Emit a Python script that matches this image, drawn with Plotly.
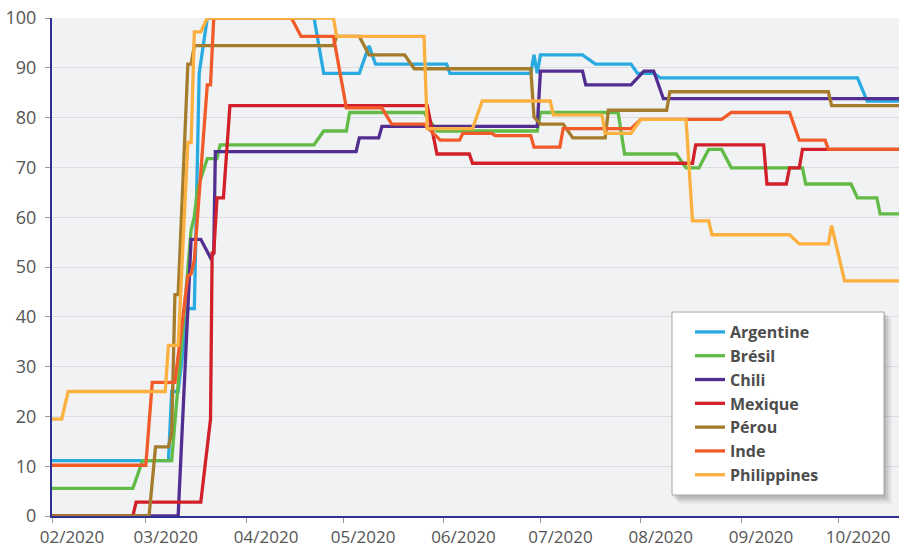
import plotly.graph_objects as go

# Stringency index by country
arg_dates = ["2020-02-01", "2020-03-08", "2020-03-09", "2020-03-11", "2020-03-14", "2020-03-16",
             "2020-03-17 12:00", "2020-03-20", "2020-04-22", "2020-04-25", "2020-05-06", "2020-05-09",
             "2020-05-11", "2020-06-02", "2020-06-03", "2020-06-28", "2020-06-29", "2020-06-30",
             "2020-07-01", "2020-07-14", "2020-07-18", "2020-07-29", "2020-07-31", "2020-08-05",
             "2020-08-07", "2020-10-07", "2020-10-10", "2020-10-20"]
arg_vals = [11.11, 11.11, 25, 25, 41.67, 41.67, 88.89, 100, 100, 88.89, 88.89, 94.44,
            90.74, 90.74, 88.89, 88.89, 92.59, 88.89, 92.59, 92.59, 90.74, 90.74, 88.89, 88.89,
            87.96, 87.96, 83.33, 83.33]

bra_dates = ["2020-02-01", "2020-02-26", "2020-02-29", "2020-03-09", "2020-03-15", "2020-03-16",
             "2020-03-17", "2020-03-20", "2020-03-23", "2020-03-24", "2020-04-22", "2020-04-25",
             "2020-05-02", "2020-05-03", "2020-05-26", "2020-05-30", "2020-06-30", "2020-07-01",
             "2020-07-25", "2020-07-27", "2020-08-12", "2020-08-15", "2020-08-19", "2020-08-22",
             "2020-08-26", "2020-08-29", "2020-09-20", "2020-09-21", "2020-10-05", "2020-10-07",
             "2020-10-13", "2020-10-14", "2020-10-20"]
bra_vals = [5.56, 5.56, 11.11, 11.11, 57.41, 60.19, 65.74, 71.76, 71.76, 74.54, 74.54, 77.31,
            77.31, 81.02, 81.02, 77.31, 77.31, 81.02, 81.02, 72.69, 72.69, 69.91, 69.91, 73.61,
            73.61, 69.91, 69.91, 66.67, 66.67, 63.89, 63.89, 60.65, 60.65]

chl_dates = ["2020-02-01", "2020-03-11", "2020-03-15", "2020-03-18", "2020-03-21", "2020-03-22",
             "2020-03-22 12:00", "2020-05-05", "2020-05-06", "2020-05-12", "2020-05-13", "2020-06-30",
             "2020-07-01", "2020-07-14", "2020-07-15", "2020-07-29", "2020-08-02", "2020-08-05",
             "2020-08-08", "2020-10-20"]
chl_vals = [0, 0, 55.56, 55.56, 51.85, 52.78, 73.15, 73.15, 75.93, 75.93, 78.24, 78.24,
            89.35, 89.35, 86.57, 86.57, 89.35, 89.35, 83.8, 83.8]

mex_dates = ["2020-02-01", "2020-02-26", "2020-02-27", "2020-03-18", "2020-03-21", "2020-03-21 12:00",
             "2020-03-22", "2020-03-23", "2020-03-25", "2020-03-27", "2020-05-27", "2020-05-30",
             "2020-06-09", "2020-06-10", "2020-08-17", "2020-08-18", "2020-09-08", "2020-09-09",
             "2020-09-15", "2020-09-16", "2020-09-19", "2020-09-20", "2020-10-20"]
mex_vals = [0, 0, 2.78, 2.78, 19.44, 52.78, 52.78, 63.89, 63.89, 82.41, 82.41, 72.69,
            72.69, 70.83, 70.83, 74.54, 74.54, 66.67, 66.67, 69.91, 69.91, 73.61, 73.61]

per_dates = ["2020-02-01", "2020-03-02", "2020-03-04", "2020-03-08", "2020-03-09", "2020-03-10",
             "2020-03-11", "2020-03-14", "2020-03-15", "2020-03-16", "2020-04-28", "2020-04-29",
             "2020-05-06", "2020-05-09", "2020-05-20", "2020-05-23", "2020-06-28", "2020-06-29",
             "2020-07-01", "2020-07-08", "2020-07-11", "2020-07-21", "2020-07-22", "2020-08-09",
             "2020-08-10", "2020-09-28", "2020-09-29", "2020-10-20"]
per_vals = [0, 0, 13.89, 13.89, 16.67, 44.44, 44.44, 90.74, 90.74, 94.44, 94.44, 96.3,
            96.3, 92.59, 92.59, 89.81, 89.81, 80.09, 78.7, 78.7, 75.93, 75.93, 81.48, 81.48,
            85.19, 85.19, 82.41, 82.41]

ind_dates = ["2020-02-01", "2020-03-01", "2020-03-03", "2020-03-10", "2020-03-14", "2020-03-15",
             "2020-03-16", "2020-03-20", "2020-03-21", "2020-03-22", "2020-04-15", "2020-04-18",
             "2020-04-28", "2020-05-02", "2020-05-13", "2020-05-16", "2020-05-26", "2020-05-31",
             "2020-06-06", "2020-06-07", "2020-06-16", "2020-06-17", "2020-06-28", "2020-06-29",
             "2020-07-07", "2020-07-08", "2020-07-29", "2020-08-01", "2020-08-26", "2020-08-29",
             "2020-09-16", "2020-09-19", "2020-09-27", "2020-09-28", "2020-10-20"]
ind_vals = [10.19, 10.19, 26.85, 26.85, 48.15, 48.61, 51.39, 86.57, 86.57, 100, 100, 96.3,
            96.3, 81.94, 81.94, 78.7, 78.7, 75.46, 75.46, 76.85, 76.85, 76.39, 76.39, 74.07,
            74.07, 77.78, 77.78, 79.63, 79.63, 81.02, 81.02, 75.46, 75.46, 73.61, 73.61]

phl_dates = ["2020-02-01", "2020-02-04", "2020-02-06", "2020-03-07", "2020-03-08", "2020-03-11",
             "2020-03-14", "2020-03-15", "2020-03-16", "2020-03-18", "2020-03-20", "2020-04-28",
             "2020-04-29", "2020-05-26", "2020-05-27", "2020-06-10", "2020-06-13", "2020-07-04",
             "2020-07-05", "2020-07-20", "2020-07-21", "2020-07-29", "2020-08-01", "2020-08-15",
             "2020-08-17", "2020-08-22", "2020-08-23", "2020-09-16", "2020-09-19", "2020-09-28",
             "2020-09-29", "2020-10-03", "2020-10-20"]
phl_vals = [19.44, 19.44, 25, 25, 34.26, 34.26, 75, 75, 97.22, 97.22, 100, 100,
            96.3, 96.3, 77.78, 77.78, 83.33, 83.33, 80.56, 80.56, 76.85, 76.85, 79.63, 79.63,
            59.26, 59.26, 56.48, 56.48, 54.63, 54.63, 58.33, 47.22, 47.22]

series = [
    ("Argentine", arg_dates, arg_vals, "#29abe2"),
    ("Brésil", bra_dates, bra_vals, "#62bb46"),
    ("Chili", chl_dates, chl_vals, "#522e91"),
    ("Mexique", mex_dates, mex_vals, "#d2202a"),
    ("Pérou", per_dates, per_vals, "#a57c2c"),
    ("Inde", ind_dates, ind_vals, "#f15a29"),
    ("Philippines", phl_dates, phl_vals, "#fbb040"),
]

fig = go.Figure()
for name, x, y, color in series:
    fig.add_trace(go.Scatter(x=x, y=y, mode="lines", name=name,
                             line=dict(color=color, width=3.3), cliponaxis=False))

AXIS_BLUE = "#2e3192"

#Legend frame drawn as shapes so it can be wider than the entries,
#with a soft drop shadow underneath (paper coords, 1px ~ 0.00118 x / 0.00201 y)
LEG_X0, LEG_X1, LEG_Y0, LEG_Y1 = 0.732, 0.9823, 0.0422, 0.4096
PX, PY = 1 / 847, 1 / 498
for off, alpha in [(8, 0.04), (6, 0.06), (4, 0.08), (2, 0.08)]:
    fig.add_shape(type="rect", xref="paper", yref="paper", layer="above",
                  x0=LEG_X0 + (off - 1) * PX, x1=LEG_X1 + off * PX,
                  y0=LEG_Y0 - (off + 1) * PY, y1=LEG_Y1 - (off - 1) * PY,
                  line=dict(width=0), fillcolor="rgba(0,0,0,%s)" % alpha)
fig.add_shape(type="rect", xref="paper", yref="paper", layer="above",
              x0=LEG_X0, x1=LEG_X1, y0=LEG_Y0, y1=LEG_Y1,
              line=dict(width=1, color="#a6a6a6"), fillcolor="white")

fig.update_layout(
    width=899, height=548,
    margin=dict(l=52, r=0, t=18, b=32),
    paper_bgcolor="white", plot_bgcolor="#f1f2f4",
    font=dict(family="Open Sans", size=17, color="#555555"),
    xaxis=dict(range=["2020-02-01", "2020-10-19 20:00"], tickformat="%m/%Y", dtick="M1",
               tick0="2020-02-01", showgrid=False, showline=True, linecolor=AXIS_BLUE,
               linewidth=2, ticks="outside", ticklen=5, tickcolor="#999999",
               ticklabelshift=20, ticklabelstandoff=0, layer="below traces", zeroline=False),
    yaxis=dict(range=[0, 100], dtick=10, gridcolor="#dcdde1", showline=True,
               linecolor=AXIS_BLUE, linewidth=2, ticks="outside", ticklen=5,
               tickcolor="#999999", zeroline=False, layer="below traces",
               ticklabelstandoff=5, tickfont=dict(size=18)),
    legend=dict(x=LEG_X0, y=LEG_Y1 - 3 * PY, xanchor="left", yanchor="top",
                bgcolor="rgba(0,0,0,0)", borderwidth=0, indentation=18,
                font=dict(family="Open Sans", size=16, color="#4d4d4d", weight="bold")),
    showlegend=True,
)

fig.write_html("out.html", config={"displayModeBar": False},
               post_script="document.body.style.margin='0';")
